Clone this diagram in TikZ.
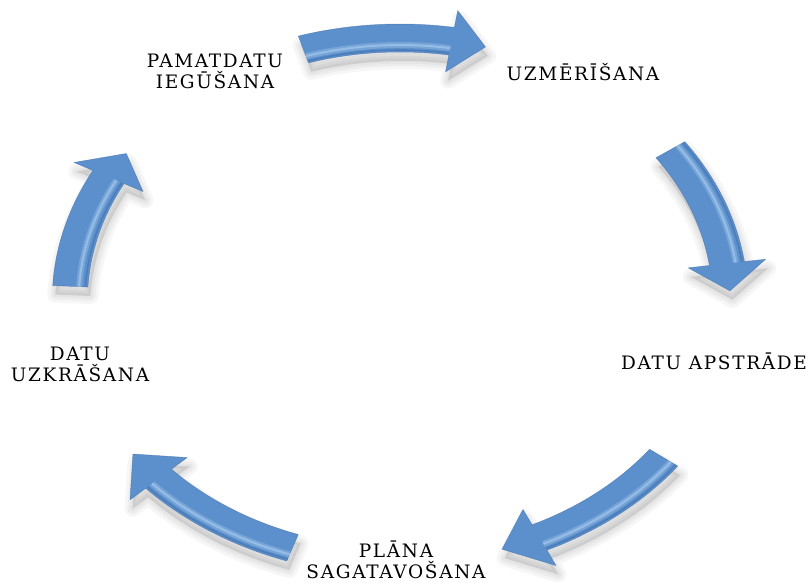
\documentclass[tikz,border=0pt]{standalone}
\usepackage{fontspec}
\newfontfamily\lblfont{DejaVu Serif}[LetterSpace=9]
\definecolor{arrowblue}{RGB}{92,144,204}
\definecolor{arrowdark}{RGB}{62,108,166}
\definecolor{arrowlight}{RGB}{170,205,240}

% Curved block arrow on the ring: start angle, head base angle, tip angle,
% radius of the light band, radius of the dark edge line beside it
\newcommand\ringarrow[5]{%
  \begin{scope}[shift={(2,-9)}]
    \foreach \lw in {16,10,5}
      \path[fill=black, draw=black, line width=\lw pt, line join=round, opacity=0.035]
        (#1:276) arc[start angle=#1, end angle=#2, radius=276] -- (#2:293) -- (#3:262)
        -- (#2:231) -- (#2:248) arc[start angle=#2, end angle=#1, radius=248] -- cycle;
  \end{scope}
  \path[fill=arrowblue, draw=arrowdark, draw opacity=0.6, line width=0.5pt, line join=round]
    (#1:276) arc[start angle=#1, end angle=#2, radius=276] -- (#2:293) -- (#3:262)
    -- (#2:231) -- (#2:248) arc[start angle=#2, end angle=#1, radius=248] -- cycle;
  \draw[arrowlight, opacity=0.35, line width=6pt]
    (#1:#4) arc[start angle=#1, end angle=#2, radius=#4];
  \draw[arrowlight, opacity=0.6, line width=2pt]
    (#1:#4) arc[start angle=#1, end angle=#2, radius=#4];
  \draw[arrowdark, opacity=0.5, line width=1.6pt]
    (#1:#5) arc[start angle=#1, end angle=#2, radius=#5];
}

\begin{document}
\begin{tikzpicture}[x=1pt, y=1pt,
  lbl/.style={font=\lblfont\fontsize{18.5}{21}\selectfont, align=center,
              text=black, inner sep=0pt}]
\useasboundingbox (0,0) rectangle (811,-582);

% the five arrows of the cycle
\begin{scope}[shift={(400,-300)}, xscale=1.26]
  \ringarrow{107}{81}{75}{255}{250}
  \ringarrow{35}{8}{2}{269}{274}
  \ringarrow{-37}{-65}{-72}{269}{274}
  \ringarrow{-109}{-137}{-144}{269}{274}
  \ringarrow{177}{152}{146}{255}{250}
\end{scope}

% stage labels
\node[lbl] (pamat) at (215,-71) {PAMATDATU\\IEGŪŠANA};
\node[lbl, anchor=base] (uzmer) at (583,-80) {UZMĒRĪŠANA};
\node[lbl, anchor=base] (apstr) at (714,-369) {DATU APSTRĀDE};
\node[lbl] (plana) at (396,-560) {PLĀNA\\SAGATAVOŠANA};
\node[lbl] (uzkr) at (80,-364) {DATU\\UZKRĀŠANA};
\end{tikzpicture}
\end{document}
